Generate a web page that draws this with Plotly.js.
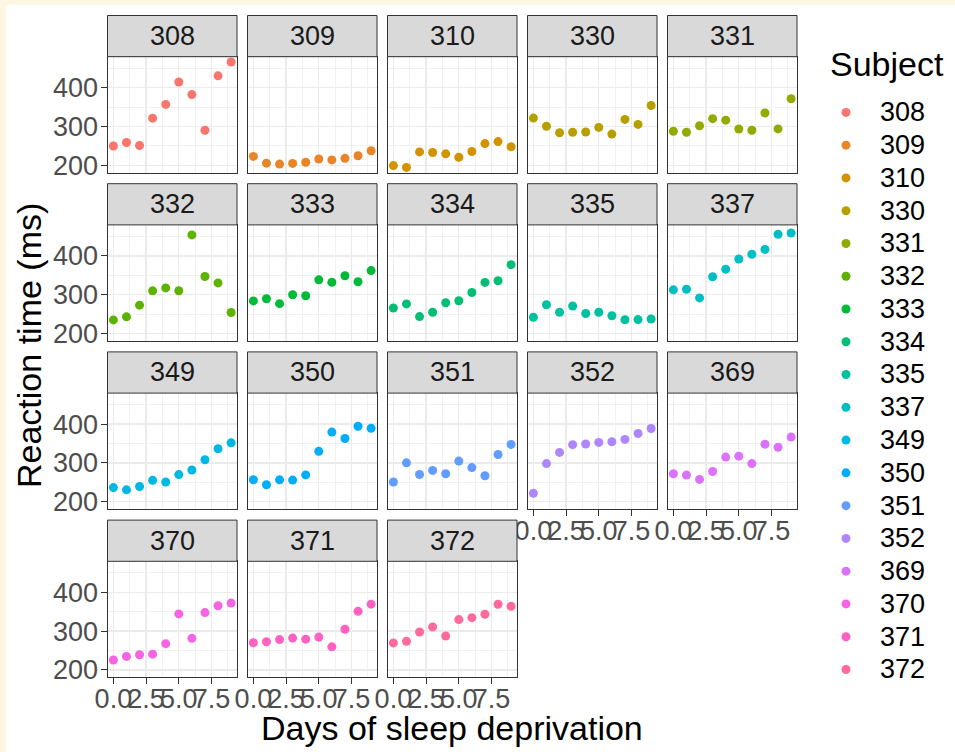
<!DOCTYPE html>
<html>
<head>
<meta charset="utf-8">
<script src="https://cdn.plot.ly/plotly-3.0.1.min.js"></script>
<style>
  html, body { margin: 0; padding: 0; background: #FDF6E3; }
  #chart { position: absolute; left: 6px; top: 5px; width: 949px; height: 747px; background: #ffffff; }
</style>
</head>
<body>
<div id="chart"></div>
<script>
// ---- data (sleepstudy) ----
const days = [0, 1, 2, 3, 4, 5, 6, 7, 8, 9];
const subjects = ['308','309','310','330','331','332','333','334','335','337','349','350','351','352','369','370','371','372'];
const rt308 = [249.56, 258.70, 250.80, 321.44, 356.85, 414.69, 382.20, 290.15, 430.59, 466.35];
const rt309 = [222.73, 205.27, 202.98, 204.71, 207.72, 215.96, 213.63, 217.73, 224.30, 237.31];
const rt310 = [199.05, 194.33, 234.32, 232.84, 229.31, 220.46, 235.42, 255.75, 261.01, 247.52];
const rt330 = [321.54, 300.40, 283.86, 285.13, 285.80, 297.59, 280.24, 318.26, 305.35, 354.05];
const rt331 = [287.61, 285.00, 301.82, 320.12, 316.28, 293.32, 290.08, 334.82, 293.75, 371.58];
const rt332 = [234.86, 242.81, 272.96, 309.77, 317.46, 310.00, 454.16, 346.83, 330.30, 253.86];
const rt333 = [283.84, 289.56, 276.77, 299.81, 297.17, 338.17, 332.03, 348.84, 333.36, 362.04];
const rt334 = [265.47, 276.20, 243.36, 254.67, 279.02, 284.19, 305.52, 331.52, 335.75, 377.30];
const rt335 = [241.61, 273.95, 254.49, 270.80, 251.45, 254.64, 245.45, 235.31, 235.75, 237.25];
const rt337 = [312.37, 313.81, 291.61, 346.12, 365.73, 391.84, 404.26, 416.69, 455.86, 458.92];
const rt349 = [236.10, 230.32, 238.93, 254.92, 250.71, 269.77, 281.56, 308.10, 336.28, 351.65];
const rt350 = [256.30, 243.45, 256.20, 255.53, 268.92, 329.72, 379.44, 362.92, 394.49, 389.05];
const rt351 = [250.53, 300.06, 269.89, 280.59, 271.83, 304.63, 287.75, 266.60, 321.54, 347.57];
const rt352 = [221.68, 298.19, 326.88, 346.86, 348.74, 352.83, 354.43, 360.43, 375.64, 388.54];
const rt369 = [271.92, 268.44, 257.24, 277.66, 314.82, 317.21, 298.14, 348.12, 340.28, 366.51];
const rt370 = [225.26, 234.52, 238.90, 240.47, 267.54, 344.19, 281.15, 347.59, 365.16, 372.23];
const rt371 = [269.88, 272.44, 277.90, 281.79, 279.17, 284.51, 259.27, 304.63, 350.78, 369.47];
const rt372 = [269.41, 273.47, 297.60, 310.63, 287.17, 329.61, 334.48, 343.22, 369.14, 364.12];
const reactions = [rt308, rt309, rt310, rt330, rt331, rt332, rt333, rt334, rt335, rt337,
                   rt349, rt350, rt351, rt352, rt369, rt370, rt371, rt372];
const xTickVals = [0, 2.5, 5, 7.5];
const xTickText = ['0.0', '2.5', '5.0', '7.5'];
const yTickVals = [200, 300, 400];

// ---- ggplot2 default hue palette (hcl) ----
function hcl(h, c, l) {
  const hr = h * Math.PI / 180;
  const U = c * Math.cos(hr), V = c * Math.sin(hr);
  const Xn = 95.047, Yn = 100, Zn = 108.883;
  const Y = Yn * (l > 7.999592 ? Math.pow((l + 16) / 116, 3) : l / 903.3);
  const t = Xn + 15 * Yn + 3 * Zn;
  const un = 4 * Xn / t, vn = 9 * Yn / t;
  const u = U / (13 * l) + un, v = V / (13 * l) + vn;
  const X = 9 * Y * u / (4 * v);
  const Z = -X / 3 - 5 * Y + 3 * Y / v;
  const x = X / 100, y = Y / 100, z = Z / 100;
  let rgb = [
    3.240479 * x - 1.537150 * y - 0.498535 * z,
    -0.969256 * x + 1.875992 * y + 0.041556 * z,
    0.055648 * x - 0.204043 * y + 1.057311 * z
  ];
  rgb = rgb.map(c0 => {
    let g = c0 <= 0.0031308 ? 12.92 * c0 : 1.055 * Math.pow(c0, 1 / 2.4) - 0.055;
    g = Math.max(0, Math.min(1, g));
    return Math.round(g * 255).toString(16).padStart(2, '0');
  });
  return '#' + rgb.join('');
}
const n = subjects.length;
const colors = subjects.map((s, i) => hcl(15 + 360 / n * i, 100, 65));

// ---- layout geometry (page px -> paper) ----
const W = 949, H = 747, OX = 6, OY = 5;
const px = v => (v - OX) / W;
const py = v => 1 - (v - OY) / H;
const colLeft0 = 107.5, colPitch = 140, panelW = 129.5;
const panelTop0 = 56.7, rowPitch = 168.2, panelH = 116, stripH = 41.2;

const FONT = 'Liberation Sans, Arial, sans-serif';
const TXT = 27, TITLE = 34;
const traces = [];
const layout = {
  width: W, height: H,
  margin: { l: 0, r: 0, t: 0, b: 0 },
  paper_bgcolor: '#ffffff',
  plot_bgcolor: '#ffffff',
  font: { family: FONT, size: TXT, color: '#1A1A1A' },
  showlegend: true,
  legend: {
    x: px(812), y: py(91), xanchor: 'left', yanchor: 'top',
    bgcolor: 'rgba(0,0,0,0)',
    font: { family: FONT, size: 22.9, color: '#000000' },
    itemwidth: 58,
    itemsizing: 'trace',
    tracegroupgap: 0
  },
  shapes: [],
  annotations: []
};

const lastRowOfCol = [3, 3, 3, 2, 2];

for (let k = 0; k < n; k++) {
  const row = Math.floor(k / 5), col = k % 5;
  const L = colLeft0 + colPitch * col, R = L + panelW;
  const T = panelTop0 + rowPitch * row, B = T + panelH;
  const sfx = k === 0 ? '' : String(k + 1);
  const showX = row === lastRowOfCol[col];
  const showY = col === 0;

  traces.push({
    type: 'scatter', mode: 'markers',
    x: days, y: reactions[k],
    xaxis: 'x' + sfx, yaxis: 'y' + sfx,
    name: '<span style="font-size:' + TXT + 'px">' + subjects[k] + '</span>',
    marker: { color: colors[k], size: 9 },
    hoverinfo: 'x+y',
    cliponaxis: false
  });

  layout['xaxis' + sfx] = {
    domain: [px(L), px(R)], anchor: 'y' + sfx,
    range: [-0.45, 9.45],
    tickmode: 'array', tickvals: xTickVals, ticktext: xTickText, tickangle: 0,
    showticklabels: showX, ticks: showX ? 'outside' : '',
    ticklen: 6, tickwidth: 1, tickcolor: '#333333', ticklabelstandoff: -9,
    tickfont: { family: FONT, size: TXT, color: '#4D4D4D' },
    showgrid: true, gridcolor: '#EBEBEB', gridwidth: 1.4,
    minor: { tickmode: 'array', tickvals: [1.25, 3.75, 6.25, 8.75], showgrid: true, gridcolor: '#EBEBEB', gridwidth: 0.7, ticks: '' },
    zeroline: false, showline: true, mirror: true, linecolor: '#333333', linewidth: 1,
    fixedrange: true
  };
  layout['yaxis' + sfx] = {
    domain: [py(B), py(T)], anchor: 'x' + sfx,
    range: [180.7, 479.95],
    tickmode: 'array', tickvals: yTickVals, tickangle: 0,
    showticklabels: showY, ticks: showY ? 'outside' : '',
    ticklen: 6, tickwidth: 1, tickcolor: '#333333', ticklabelstandoff: -3,
    tickfont: { family: FONT, size: TXT, color: '#4D4D4D' },
    showgrid: true, gridcolor: '#EBEBEB', gridwidth: 1.4,
    minor: { tickmode: 'array', tickvals: [250, 350, 450], showgrid: true, gridcolor: '#EBEBEB', gridwidth: 0.7, ticks: '' },
    zeroline: false, showline: true, mirror: true, linecolor: '#333333', linewidth: 1,
    fixedrange: true
  };

  // strip
  layout.shapes.push({
    type: 'rect', xref: 'paper', yref: 'paper',
    x0: px(L), x1: px(R), y0: py(T), y1: py(T - stripH),
    fillcolor: '#D9D9D9', line: { color: '#333333', width: 1 }, layer: 'above'
  });
  layout.annotations.push({
    xref: 'paper', yref: 'paper', x: px((L + R) / 2), y: py(T - stripH / 2),
    xanchor: 'center', yanchor: 'middle', showarrow: false,
    text: subjects[k], font: { family: FONT, size: TXT, color: '#1A1A1A' }
  });
}

// legend title
layout.annotations.push({
  xref: 'paper', yref: 'paper', x: px(828), y: py(64),
  xanchor: 'left', yanchor: 'middle', showarrow: false,
  text: 'Subject', font: { family: FONT, size: TITLE, color: '#000000' }
});
// axis titles
layout.annotations.push({
  xref: 'paper', yref: 'paper', x: px(452), y: py(728),
  xanchor: 'center', yanchor: 'middle', showarrow: false,
  text: 'Days of sleep deprivation', font: { family: FONT, size: TITLE, color: '#000000' }
});
layout.annotations.push({
  xref: 'paper', yref: 'paper', x: px(29), y: py(346),
  xanchor: 'center', yanchor: 'middle', showarrow: false, textangle: -90,
  text: 'Reaction time (ms)', font: { family: FONT, size: TITLE, color: '#000000' }
});

Plotly.newPlot('chart', traces, layout, { displayModeBar: false, staticPlot: true });
</script>
</body>
</html>
